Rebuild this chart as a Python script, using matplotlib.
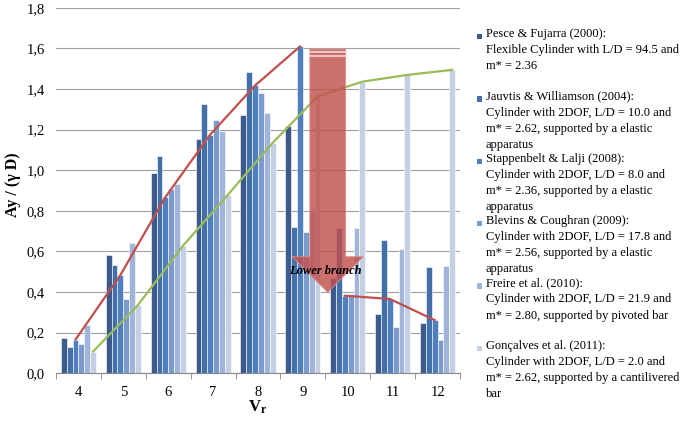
import numpy as np
import matplotlib
matplotlib.use("Agg")
import matplotlib.pyplot as plt
from matplotlib.patches import Polygon, Rectangle

plt.rcParams['font.family'] = ['Liberation Serif', 'DejaVu Serif']
plt.rcParams['mathtext.fontset'] = 'custom'
plt.rcParams['mathtext.rm'] = 'Liberation Serif'
plt.rcParams['mathtext.bf'] = 'Liberation Serif:bold'

# reduced velocity categories
vr = ['4', '5', '6', '7', '8', '9', '10', '11', '12']

# Ay/D per study
pesce = [0.172, 0.580, 0.985, 1.153, 1.272, 1.218, 0.47, 0.292, 0.249]
jauvtis = [0.131, 0.535, 1.070, 1.327, 1.483, 0.722, 0.714, 0.657, 0.525]
stappenbelt = [0.166, 0.484, 0.867, 1.175, 1.417, 1.609, 0.382, 0.366, 0.262]
blevins = [0.143, 0.366, 0.906, 1.248, 1.379, 0.698, 0.39, 0.230, 0.164]
freire = [0.240, 0.643, 0.932, 1.194, 1.281, 0.796, 0.714, 0.611, 0.528]
goncalves = [0.107, 0.336, 0.627, 0.878, 1.134, 1.363, 1.436, 1.469, 1.494]

labels = [
    "Pesce & Fujarra (2000):\nFlexible Cylinder with L/D = 94.5 and\nm* = 2.36",
    "Jauvtis & Williamson (2004):\nCylinder with 2DOF, L/D = 10.0 and\nm* = 2.62, supported by a elastic\napparatus",
    "Stappenbelt & Lalji (2008):\nCylinder with 2DOF, L/D = 8.0 and\nm* = 2.36, supported by a elastic\napparatus",
    "Blevins & Coughran (2009):\nCylinder with 2DOF, L/D = 17.8 and\nm* = 2.56, supported by a elastic\napparatus",
    "Freire et al. (2010):\nCylinder with 2DOF, L/D = 21.9 and\nm* = 2.80, supported by pivoted bar",
    "Gonçalves et al. (2011):\nCylinder with 2DOF, L/D = 2.0 and\nm* = 2.62, supported by a cantilivered\nbar",
]
series = [pesce, jauvtis, stappenbelt, blevins, freire, goncalves]
colors = ['#3A5B8B', '#4470A9', '#4F7FBE', '#7B9BCC', '#A0B5D9', '#C5D0E5']

fig = plt.figure(figsize=(6.88, 4.23), dpi=100)
ax = fig.add_axes([56 / 688, 1 - 373.3 / 423, 404 / 688, 365.6 / 423])

x = np.arange(len(vr))
w = 0.13
for j, (vals, c) in enumerate(zip(series, colors)):
    ax.bar(x + (j - 2.5) * w, vals, width=w, color=c, edgecolor='white',
           linewidth=0.4, zorder=2)

# trend lines through Stappenbelt (upper/lower branch) and Gonçalves tops
xs = x + (2 - 2.5) * w
ax.plot(xs[:6], stappenbelt[:6], color='#C0504D', lw=1.6, zorder=3)
ax.plot(xs[6:], stappenbelt[6:], color='#C0504D', lw=1.6, zorder=3)
ax.plot(x + 2.5 * w, goncalves, color='#9BBB59', lw=1.6, zorder=3)

# striped down arrow
sx0, sx1 = 5.156, 5.95
top, base, tip = 1.596, 0.574, 0.399
hx0, hx1 = 4.76, 6.34
arrow = Polygon([(sx0, top), (sx1, top), (sx1, base), (hx1, base),
                 ((sx0 + sx1) / 2, tip), (hx0, base), (sx0, base)],
                closed=True, facecolor='#C0504D', edgecolor='#D88A88',
                alpha=0.82, lw=0.8, zorder=4)
ax.add_patch(arrow)
for yy in (1.582, 1.562):
    ax.plot([sx0, sx1], [yy, yy], color='#F4D6D6', lw=1.2, zorder=5)
ax.text(5.51, 0.504, 'Lower branch', fontsize=9, fontweight='bold',
        fontstyle='italic', ha='center', va='center', zorder=6)

ax.set_xlim(-0.5, 8.5)
ax.set_ylim(0, 1.8)
ax.set_yticks(np.arange(0, 1.81, 0.2))
ax.set_yticklabels([f"{v:.1f}".replace('.', ',') for v in np.arange(0, 1.81, 0.2)])
ax.set_xticks(x)
ax.set_xticklabels(vr)
ax.set_xticks(np.arange(-0.5, 9, 1), minor=True)
ax.tick_params(axis='x', which='major', length=0, pad=9, labelsize=10.5)
ax.tick_params(axis='x', which='minor', length=4, color='#888888')
ax.tick_params(axis='y', length=0, pad=8, labelsize=10.5)
ax.grid(axis='y', color='#A0A0A0', lw=0.8, zorder=0)
ax.set_axisbelow(True)
for s in ['top', 'right', 'left']:
    ax.spines[s].set_visible(False)
ax.spines['bottom'].set_color('#888888')

ax.set_xlabel(r'$\mathbf{V_r}$', fontsize=12, labelpad=0)
fig.text(13 / 688, 1 - 185 / 423, 'Ay / (γ D)', rotation=90, fontsize=11.5,
         fontweight='bold', ha='center', va='center')

# legend drawn by hand so the marker sits on the first line
for i, (lab, c) in enumerate(zip(labels, colors)):
    yc = 36.7 + i * 62.3
    fig.add_artist(Rectangle((476.7 / 688, 1 - (yc + 2.7) / 423), 5.4 / 688, 5.4 / 423,
                             transform=fig.transFigure, facecolor=c, edgecolor='none'))
    fig.text(485.7 / 688, 1 - (yc - 8.5) / 423, lab, fontsize=9, va='top',
             ha='left', linespacing=1.45)

fig.savefig('out.png', dpi=100)
